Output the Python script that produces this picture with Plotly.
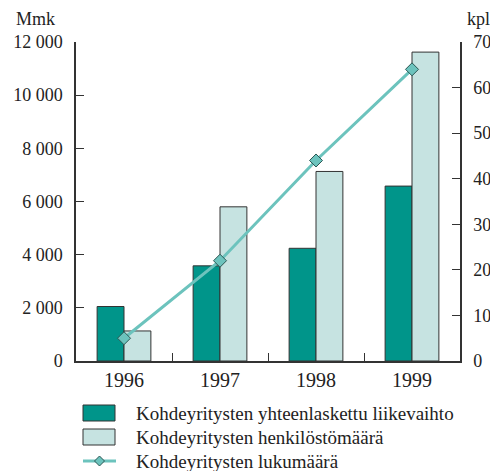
import plotly.graph_objects as go

years = ["1996", "1997", "1998", "1999"]
liikevaihto = [2050, 3580, 4240, 6580]          # Mmk, left axis
henkilosto = [1130, 5800, 7130, 11620]          # left axis
lukumaara = [5, 22, 44, 64]                      # kpl, right axis

name_liike = "Kohdeyritysten yhteenlaskettu liikevaihto"
name_henk = "Kohdeyritysten henkilöstömäärä"
name_luku = "Kohdeyritysten lukumäärä"

DARK = "#00958a"
LIGHT = "#c6e3e1"
LINE = "#6cc3bd"
EDGE = "#333333"
FONT = "Liberation Serif, Times New Roman, serif"

W, H = 490, 471
L, R, T, B = 76, 30, 42, 110
PW, PH = W - L - R, H - T - B

fig = go.Figure()
fig.add_trace(go.Bar(x=years, y=liikevaihto, name=name_liike,
                     marker=dict(color=DARK, line=dict(color=EDGE, width=1)),
                     showlegend=False))
fig.add_trace(go.Bar(x=years, y=henkilosto, name=name_henk,
                     marker=dict(color=LIGHT, line=dict(color=EDGE, width=1)),
                     showlegend=False))
fig.add_trace(go.Scatter(x=years, y=lukumaara, name=name_luku, yaxis="y2",
                         mode="lines+markers",
                         line=dict(color=LINE, width=3),
                         marker=dict(symbol="diamond", size=10, color=LINE,
                                     line=dict(color="#2b5754", width=1)),
                         showlegend=False))

def px_x(p):
    return (p - L) / PW

def px_y(p):
    return (H - B - p) / PH

shapes = []
annotations = []
# custom legend
legend_items = [(name_liike, "bar", DARK, 413), (name_henk, "bar", LIGHT, 437), (name_luku, "line", LINE, 461)]
for name, kind, col, cy in legend_items:
    if kind == "bar":
        shapes.append(dict(type="rect", xref="paper", yref="paper",
                           x0=px_x(83), x1=px_x(115), y0=px_y(cy + 8), y1=px_y(cy - 8),
                           fillcolor=col, line=dict(color=EDGE, width=1)))
    else:
        shapes.append(dict(type="line", xref="paper", yref="paper",
                           x0=px_x(83), x1=px_x(116), y0=px_y(cy), y1=px_y(cy),
                           line=dict(color=col, width=3)))
        shapes.append(dict(type="path", xref="paper", yref="paper",
                           path="M {},{} L {},{} L {},{} L {},{} Z".format(
                               px_x(99.5 - 5), px_y(cy), px_x(99.5), px_y(cy - 5),
                               px_x(99.5 + 5), px_y(cy), px_x(99.5), px_y(cy + 5)),
                           fillcolor=col, line=dict(color="#2b5754", width=1)))
    annotations.append(dict(text=name, xref="paper", yref="paper",
                            x=px_x(134), y=px_y(cy), xanchor="left", yanchor="middle",
                            showarrow=False, font=dict(family=FONT, size=19, color="#222")))

annotations.append(dict(text="Mmk", xref="paper", yref="paper", x=px_x(14), y=px_y(19),
                        xanchor="left", yanchor="middle", showarrow=False,
                        font=dict(family=FONT, size=18, color="#222")))
annotations.append(dict(text="kpl", xref="paper", yref="paper", x=px_x(465), y=px_y(19),
                        xanchor="left", yanchor="middle", showarrow=False,
                        font=dict(family=FONT, size=18, color="#222")))

fig.update_layout(
    width=W, height=H,
    margin=dict(l=L, r=R, t=T, b=B, autoexpand=False),
    paper_bgcolor="white", plot_bgcolor="white",
    barmode="group", bargap=0.44, bargroupgap=0,
    separators=", ",
    font=dict(family=FONT, color="#222"),
    xaxis=dict(type="category", showline=True, linecolor=EDGE, linewidth=1.5,
               ticks="inside", tickson="boundaries", ticklen=8, tickcolor=EDGE,
               tickwidth=1.2, automargin=False,
               tickfont=dict(family=FONT, size=20, color="#222"),
               showgrid=False, zeroline=False),
    yaxis=dict(range=[0, 12000], dtick=2000, tickformat=",d",
               showline=True, linecolor=EDGE, linewidth=1.5,
               ticks="inside", ticklen=8, tickcolor=EDGE, automargin=False,
               ticklabelstandoff=8,
               tickfont=dict(family=FONT, size=18, color="#222"),
               showgrid=False, zeroline=False),
    yaxis2=dict(range=[0, 70], dtick=10, overlaying="y", side="right",
                showline=True, linecolor=EDGE, linewidth=1.5,
                ticks="inside", ticklen=8, tickcolor=EDGE, automargin=False,
                ticklabelstandoff=8,
                tickfont=dict(family=FONT, size=18, color="#222"),
                showgrid=False, zeroline=False),
    shapes=shapes, annotations=annotations,
)

fig.write_html("out.html", config={"displayModeBar": False},
               post_script="document.body.style.margin='0';document.body.style.overflow='hidden';")
